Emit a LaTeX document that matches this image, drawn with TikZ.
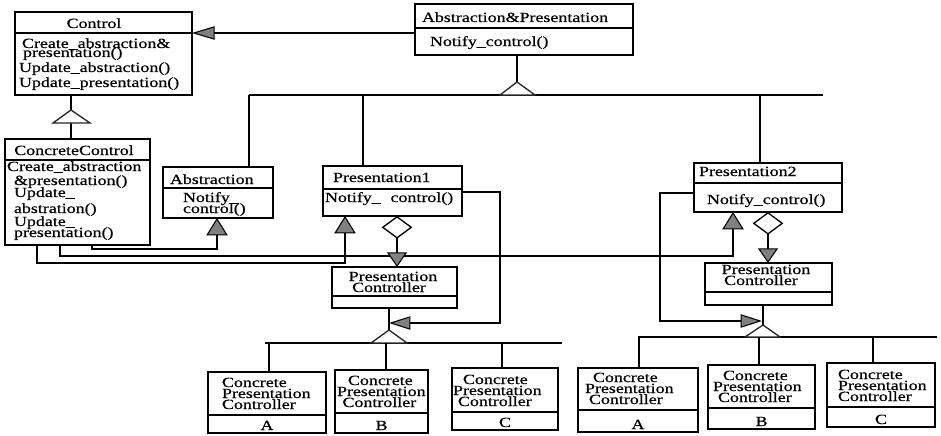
\documentclass[tikz,border=0pt]{standalone}
\usepackage{fontspec}
\setmainfont{Liberation Serif}[FakeStretch=1.28,FakeBold=0.6]
\usetikzlibrary{arrows.meta}
\tikzset{
  ubox/.style={draw, line width=1.2pt, inner sep=0pt, outer sep=0pt},
  udiv/.style={line width=1.1pt},
  txt/.style={inner sep=0pt, outer sep=0pt, font=\fontsize{10.5}{12}\selectfont},
  conn/.style={line width=0.8pt},
  tri/.style={line width=1pt, draw=black!85, fill=white},
  headL/.tip={Triangle[length=17pt,width=10pt,fill=gray]},
  headU/.tip={Triangle[length=13pt,width=16pt,fill=gray]},
  headD/.tip={Triangle[length=11pt,width=15pt,fill=gray]},
  headS/.tip={Triangle[length=16pt,width=10pt,fill=gray]},
  agg/.tip={Diamond[open,length=17pt,width=23pt,line width=1pt]}
}
\newcommand\umlbox[6]{%
  \node[ubox, anchor=north west, minimum width={(#4-#2)*0.75pt}, minimum height={(#5-#3)*0.75pt}] (#1) at (#2,#3) {};
  \draw[udiv] (#1.west |- 0,#6) -- (#1.east |- 0,#6);
}
\newcommand\cpcbox[9]{%
  \umlbox{#1}{#2}{#3}{#4}{#5}{#6}
  \node[txt, anchor=base west] (#1a) at (#8,#6-28) {Concrete};
  \node[txt, anchor=base west] (#1b) at (#9,#6-17) {Presentation};
  \node[txt, anchor=base west] (#1c) at ({(#8+#9)/2},#6-6) {Controller};
  \node[txt, anchor=base] (#1d) at ({(#2+#4)/2},#5-3) {#7};
}
\newcommand\tw[4]{\node[txt, anchor=base west] (#1) at (#2,#3) {#4};}
\newcommand\tcn[4]{\node[txt, anchor=base] (#1) at (#2,#3) {#4};}
\begin{document}
\begin{tikzpicture}[x=0.75pt,y=-0.75pt]
\useasboundingbox (0,0) rectangle (941,435);

% ---------- boxes
\umlbox{control}{15}{12}{192}{95}{33}
\umlbox{ap}{415}{4}{633}{55}{28}
\umlbox{cc}{5}{139}{150}{245}{160}
\umlbox{abs}{163}{167}{273}{218}{188}
\umlbox{pa}{323}{166}{462}{216}{189}
\umlbox{pb}{694}{163}{842}{212}{183}
\umlbox{pca}{332}{267}{457}{308}{296}
\umlbox{pcb}{705}{263}{832}{305}{292}

\cpcbox{qa}{208}{372}{326}{433}{415}{A}{222}{222}
\cpcbox{qb}{335}{370}{428}{433}{413}{B}{348}{337}
\cpcbox{qc}{452}{368}{558}{430}{412}{C}{463}{453}
\cpcbox{qd}{578}{368}{698}{432}{410}{A}{593}{585}
\cpcbox{qe}{708}{365}{815}{429}{408}{B}{723}{713}
\cpcbox{qf}{827}{363}{935}{427}{407}{C}{838}{838}

% ---------- texts
\tcn{tControl}{94}{28}{Control}
\tw{m1}{22}{48}{Create\_abstraction\&}
\tw{m2}{23}{57}{presentation()}
\tw{m3}{19}{72}{Update\_abstraction()}
\tw{m4}{19}{87}{Update\_presentation()}

\tw{tAP}{422}{22}{Abstraction\&Presentation}
\tw{mAP}{430}{46}{Notify\_control()}

\tcn{tCC}{74}{155}{ConcreteControl}
\tw{c1}{7}{171}{Create\_abstraction}
\tw{c2}{14}{185}{\&presentation()}
\tw{c3}{14}{197}{Update\_}
\tw{c4}{14}{213}{abstration()}
\tw{c5}{14}{226}{Update\_}
\tw{c6}{14}{237}{presentation()}

\tw{tAbs}{170}{184}{Abstraction}
\tw{a1}{183}{202}{Notify\_}
\tw{a2}{183}{213}{control()}

\tw{tPa}{333}{182}{Presentation1}
\tw{pa1}{325}{202}{Notify\_\hspace{0.7em}control()}

\tcn{pca1}{393}{281}{Presentation}
\tcn{pca2}{389}{292}{Controller}

\tw{tPb}{699}{176}{Presentation2}
\tw{pb1}{707}{204}{Notify\_control()}

\tcn{pcb1}{766}{274}{Presentation}
\tcn{pcb2}{761}{285}{Controller}

% ---------- connectors
\draw[conn, -{headL}] (ap.west |- 0,33) -- (control.east |- 0,33);

\draw[conn] (cc.north -| 71,0) -- (control.south -| 71,0);
\draw[tri] (53,123) -- (71,110) -- (90,123) -- cycle;

\draw[conn] (ap.south -| 517,0) -- (517,95);
\draw[conn] (249,95) -- (823,95);
\draw[tri] (500,95) -- (517,82) -- (535,95) -- cycle;
\draw[conn] (249,95) -- (abs.north -| 249,0);
\draw[conn] (363,95) -- (pa.north -| 363,0);
\draw[conn] (760,95) -- (pb.north -| 760,0);

\draw[conn, -{headU}] (cc.south -| 92,0) |- (217,249) -- (abs.south -| 217,0);
\draw[conn, -{headU}] (cc.south -| 37,0) |- (345,263) -- (pa.south -| 345,0);
\draw[conn, -{headU}] (cc.south -| 60,0) |- (733,256) -- (pb.south -| 733,0);

\draw[conn, {agg}-{headD}] (pa.south -| 397,0) -- (pca.north -| 397,0);
\draw[conn, {agg}-{headD}] (pb.south -| 768,0) -- (pcb.north -| 768,0);

\draw[conn, -{headS}] (pa.east |- 0,192) -| (500,323) -- (389,323);
\draw[conn, -{headS}] (pb.west |- 0,193) -| (660,321) -- (762,321);

\draw[conn] (pca.south -| 389,0) -- (389,343);
\draw[conn] (265,343) -- (562,343);
\draw[tri] (371,343) -- (389,330) -- (407,343) -- cycle;
\draw[conn] (269,343) -- (qa.north -| 269,0);
\draw[conn] (386,343) -- (qb.north -| 386,0);
\draw[conn] (502,343) -- (qc.north -| 502,0);

\draw[conn] (pcb.south -| 763,0) -- (763,337);
\draw[conn] (638,337) -- (937,337);
\draw[tri] (745,337) -- (763,325) -- (780,337) -- cycle;
\draw[conn] (639,337) -- (qd.north -| 639,0);
\draw[conn] (759,337) -- (qe.north -| 759,0);
\draw[conn] (873,337) -- (qf.north -| 873,0);
\end{tikzpicture}
\end{document}
